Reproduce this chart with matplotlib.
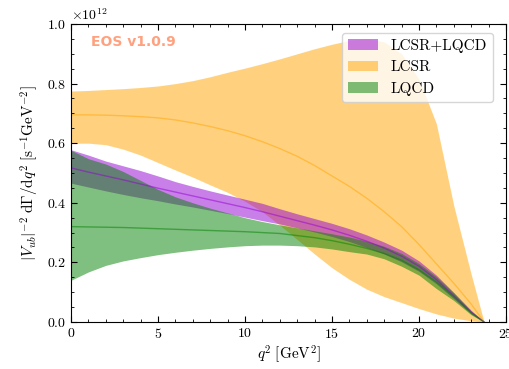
import numpy as np
import matplotlib
matplotlib.use("Agg")
import matplotlib.pyplot as plt
from matplotlib.patches import Patch
from matplotlib.ticker import MultipleLocator

plt.rcParams['font.family'] = 'serif'
plt.rcParams['font.serif'] = ['cmr10']
plt.rcParams['mathtext.fontset'] = 'cm'
plt.rcParams['axes.formatter.use_mathtext'] = True

# q^2 sample points [GeV^2]
q2 = [0, 1, 2, 3, 4, 5, 6, 7, 8, 9, 10, 11, 12, 13, 14, 15, 16, 17, 18, 19, 20, 21, 22, 23, 23.74]

# values in units of 1e12 s^-1 GeV^-2
lcsr_hi = [0.775, 0.777, 0.780, 0.783, 0.787, 0.792, 0.800, 0.810, 0.823, 0.838, 0.852, 0.867, 0.883,
           0.900, 0.917, 0.932, 0.945, 0.950, 0.940, 0.900, 0.815, 0.665, 0.390, 0.160, 0.0]
lcsr_mid = [0.695, 0.695, 0.694, 0.692, 0.689, 0.685, 0.678, 0.668, 0.656, 0.642, 0.625, 0.605, 0.582,
            0.556, 0.525, 0.490, 0.455, 0.415, 0.370, 0.320, 0.260, 0.195, 0.130, 0.060, 0.0]
lcsr_lo = [0.600, 0.600, 0.595, 0.580, 0.560, 0.535, 0.510, 0.486, 0.460, 0.435, 0.405, 0.370, 0.325,
           0.277, 0.228, 0.182, 0.143, 0.110, 0.085, 0.065, 0.045, 0.027, 0.013, 0.004, 0.0]

comb_hi = [0.578, 0.560, 0.540, 0.524, 0.508, 0.490, 0.471, 0.455, 0.440, 0.426, 0.412, 0.398, 0.380,
           0.363, 0.347, 0.331, 0.313, 0.292, 0.268, 0.241, 0.205, 0.157, 0.099, 0.039, 0.0]
comb_mid = [0.517, 0.503, 0.490, 0.477, 0.463, 0.449, 0.436, 0.423, 0.410, 0.397, 0.384, 0.370, 0.355,
            0.340, 0.325, 0.309, 0.291, 0.271, 0.248, 0.221, 0.187, 0.142, 0.088, 0.033, 0.0]
comb_lo = [0.466, 0.453, 0.440, 0.428, 0.417, 0.407, 0.396, 0.386, 0.375, 0.364, 0.352, 0.340, 0.329,
           0.316, 0.302, 0.287, 0.270, 0.250, 0.228, 0.202, 0.170, 0.128, 0.078, 0.028, 0.0]

lqcd_hi = [0.576, 0.548, 0.530, 0.505, 0.475, 0.445, 0.420, 0.400, 0.382, 0.366, 0.350, 0.337, 0.326,
           0.316, 0.306, 0.296, 0.285, 0.271, 0.254, 0.230, 0.196, 0.152, 0.097, 0.036, 0.0]
lqcd_mid = [0.320, 0.319, 0.318, 0.317, 0.315, 0.313, 0.311, 0.309, 0.307, 0.305, 0.303, 0.300, 0.297,
            0.290, 0.283, 0.273, 0.261, 0.247, 0.230, 0.207, 0.175, 0.134, 0.085, 0.030, 0.0]
lqcd_lo = [0.140, 0.168, 0.190, 0.205, 0.216, 0.226, 0.234, 0.241, 0.247, 0.252, 0.256, 0.258, 0.258,
           0.256, 0.252, 0.245, 0.236, 0.228, 0.212, 0.187, 0.157, 0.112, 0.072, 0.024, 0.0]

labels = ['LCSR+LQCD', 'LCSR', 'LQCD']
colors = ['darkviolet', 'orange', 'green']
scale = 1e12

fig = plt.figure(figsize=(5.09, 3.69), dpi=100)
ax = fig.add_axes([0.1395, 0.1274, 0.8546, 0.8076])

q = np.array(q2)
bands = [(lcsr_lo, lcsr_mid, lcsr_hi, colors[1]),
         (comb_lo, comb_mid, comb_hi, colors[0]),
         (lqcd_lo, lqcd_mid, lqcd_hi, colors[2])]
for lo, mid, hi, c in bands:
    ax.fill_between(q, np.array(lo) * scale, np.array(hi) * scale, color=c, alpha=0.5, lw=0)
    ax.plot(q, np.array(mid) * scale, color=c, alpha=0.5, lw=1)

ax.set_xlim(0, 25)
ax.set_ylim(0, 1.0e12)
ax.xaxis.set_major_locator(MultipleLocator(5))
ax.xaxis.set_minor_locator(MultipleLocator(1))
ax.yaxis.set_major_locator(MultipleLocator(0.2e12))
ax.yaxis.set_minor_locator(MultipleLocator(0.05e12))
ax.tick_params(which='both', direction='in', top=True, right=True, labelsize=10)
ax.tick_params(which='major', length=4)
ax.tick_params(which='minor', length=2)
ax.yaxis.get_offset_text().set_fontsize(10)

ax.set_xlabel(r'$q^2\;[\mathrm{GeV}^2]$', fontsize=11, labelpad=2)
ax.set_ylabel(r'$|V_{ub}|^{-2}\;\mathrm{d}\Gamma/\mathrm{d}q^2\;[\mathrm{s}^{-1}\mathrm{GeV}^{-2}]$', fontsize=11)

ax.text(0.045, 0.94, 'EOS v1.0.9', transform=ax.transAxes, family='DejaVu Sans',
        fontsize=10, fontweight='bold', color='OrangeRed', alpha=0.5, va='center', ha='left')

handles = [Patch(facecolor=c, alpha=0.5, edgecolor='none') for c in colors]
ax.legend(handles, labels, loc='upper right', bbox_to_anchor=(0.97, 0.97), borderaxespad=0,
          fontsize=11, frameon=True)

fig.savefig('out.png', dpi=100)
